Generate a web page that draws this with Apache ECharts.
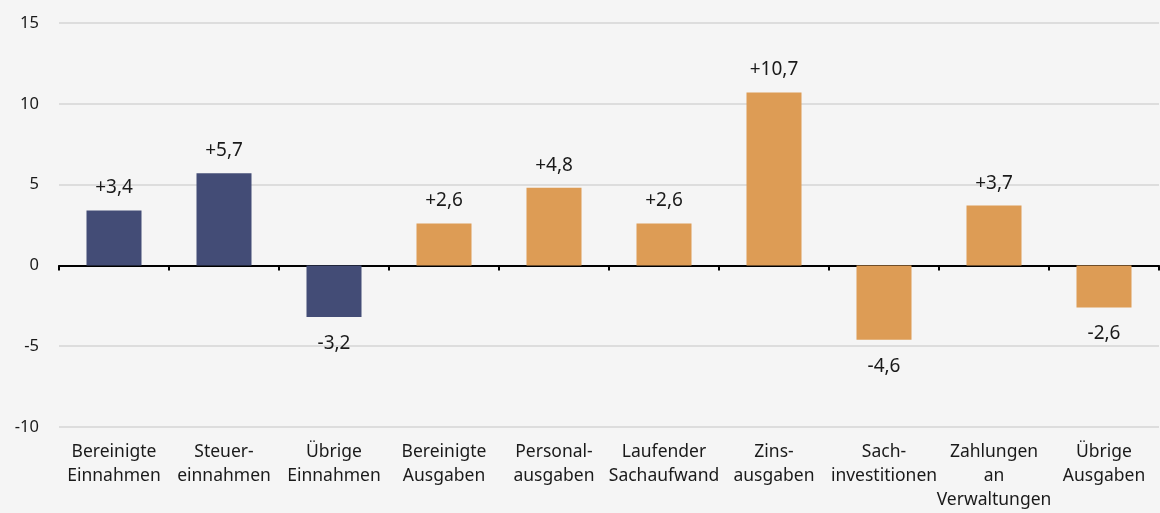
<!DOCTYPE html>
<html>
<head>
<meta charset="utf-8">
<script src="https://cdn.jsdelivr.net/npm/echarts@6/dist/echarts.min.js"></script>
<style>
  html, body { margin: 0; padding: 0; background: #f5f5f5; }
  #chart { width: 1160px; height: 513px; }
</style>
</head>
<body>
<div id="chart"></div>
<script>
const categories = [
  'Bereinigte\nEinnahmen', 'Steuer-\neinnahmen', 'Übrige\nEinnahmen', 'Bereinigte\nAusgaben',
  'Personal-\nausgaben', 'Laufender\nSachaufwand', 'Zins-\nausgaben', 'Sach-\ninvestitionen',
  'Zahlungen\nan\nVerwaltungen', 'Übrige\nAusgaben'
]
const values = [3.4, 5.7, -3.2, 2.6, 4.8, 2.6, 10.7, -4.6, 3.7, -2.6]
const yTicks = { min: -10, max: 15, interval: 5 }

const NAVY = '#434c76'
const ORANGE = '#dd9c55'
const font = '"Noto Sans", "Open Sans", sans-serif'

const chart = echarts.init(document.getElementById('chart'))

chart.setOption({
  backgroundColor: '#f5f5f5',
  animation: false,
  grid: { left: 59, right: 1, top: 23, bottom: 86 },
  xAxis: [
    {
      type: 'category',
      data: categories,
      position: 'bottom',
      axisLine: { show: false, onZero: false },
      axisTick: { show: false },
      axisLabel: { color: '#1a1a1a', fontSize: 17.5, lineHeight: 24, margin: 13, fontFamily: font, interval: 0 }
    },
    {
      type: 'category',
      data: categories,
      position: 'bottom',
      axisLine: { show: true, onZero: true, lineStyle: { color: '#000', width: 2 } },
      axisTick: { show: true, length: 5, lineStyle: { color: '#000', width: 2 } },
      axisLabel: { show: false }
    }
  ],
  yAxis: {
    type: 'value',
    min: yTicks.min,
    max: yTicks.max,
    interval: yTicks.interval,
    axisLine: { show: false },
    axisTick: { show: false },
    axisLabel: { color: '#1a1a1a', fontSize: 16.5, margin: 20, fontFamily: font },
    splitLine: { lineStyle: { color: '#dddddd', width: 2 } }
  },
  series: [{
    type: 'bar',
    xAxisIndex: 0,
    barWidth: 55,
    data: values.map((v, i) => ({
      value: v,
      itemStyle: { color: i < 3 ? NAVY : ORANGE },
      label: { position: v >= 0 ? 'top' : 'bottom', distance: v >= 0 ? 13 : 17 }
    })),
    label: {
      show: true,
      color: '#1a1a1a',
      fontSize: 19,
      fontFamily: font,
      formatter: p => (p.value > 0 ? '+' : '') + p.value.toFixed(1).replace('.', ',')
    },
    z: 1
  }]
})
</script>
</body>
</html>
